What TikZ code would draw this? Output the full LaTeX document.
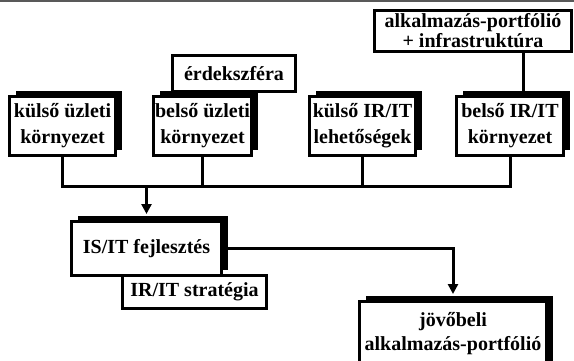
\documentclass[tikz,border=0pt]{standalone}
\usepackage{fontspec}
\setmainfont{Liberation Serif}
\usetikzlibrary{shadows,arrows.meta,calc}
\begin{document}
\begin{tikzpicture}[x=1pt,y=-1pt,
  panel/.style={draw=black, line width=3pt, fill=white, align=center, inner sep=0pt,
    font=\bfseries\fontsize{20}{26}\selectfont},
  shadowpanel/.style={panel, general shadow={fill=black, shadow xshift=6pt, shadow yshift=6pt}},
  tagpanel/.style={panel, line width=2.5pt},
  link/.style={line width=3pt},
  arrowlink/.style={link, -{Triangle[length=10pt,width=10pt]}, shorten >=6pt}]
\useasboundingbox (0,0) rectangle (574,360);
\clip (0,0) rectangle (574,360);

% frame line along the top edge
\draw[gray!70!black, line width=2pt] (0,1) -- (574,1);

% upper row
\node[panel, minimum width=197pt, minimum height=41pt,
      font=\bfseries\fontsize{20}{20}\selectfont] (alk) at (473,31)
  {alkalmazás-portfólió\\+ infrastruktúra};
\node[tagpanel, minimum width=123pt, minimum height=36pt] (erdek) at (234,73.5) {érdekszféra};

\node[shadowpanel, minimum width=106pt, minimum height=59pt] (b1) at (62.5,126) {külső üzleti\\környezet};
\node[shadowpanel, minimum width=98pt, minimum height=59pt] (b2) at (202.5,126) {belső üzleti\\környezet};
\node[shadowpanel, minimum width=106pt, minimum height=59pt] (b3) at (362.5,126) {külső IR/IT\\lehetőségek};
\node[shadowpanel, minimum width=107pt, minimum height=59pt] (b4) at (510,126) {belső IR/IT\\környezet};

% lower part
\node[tagpanel, minimum width=144pt, minimum height=33pt] (strat) at (194.5,292) {IR/IT stratégia};
\node[shadowpanel, minimum width=150pt, minimum height=54pt] (isit) at (146.5,248.5) {IS/IT fejlesztés};
\node[shadowpanel, minimum width=187pt, minimum height=65pt,
      font=\bfseries\fontsize{20}{24}\selectfont] (jov) at (453,334)
  {jövőbeli\\alkalmazás-portfólió};

% connectors
\coordinate (bus) at (0,186);
\coordinate (alkfoot) at ($(alk.south)+(50,0)$);
\draw[link] (alkfoot) -- (alkfoot |- b4.north);
\draw[link] (b1.south) -- (b1.south |- bus) -- (b4.south |- bus) -- (b4.south);
\draw[link] (b2.south) -- (b2.south |- bus);
\draw[link] (b3.south) -- (b3.south |- bus);
\draw[arrowlink] (isit.north |- bus) -- (isit.north);
\draw[arrowlink] (isit.east) -| (jov.north);
\end{tikzpicture}
\end{document}
